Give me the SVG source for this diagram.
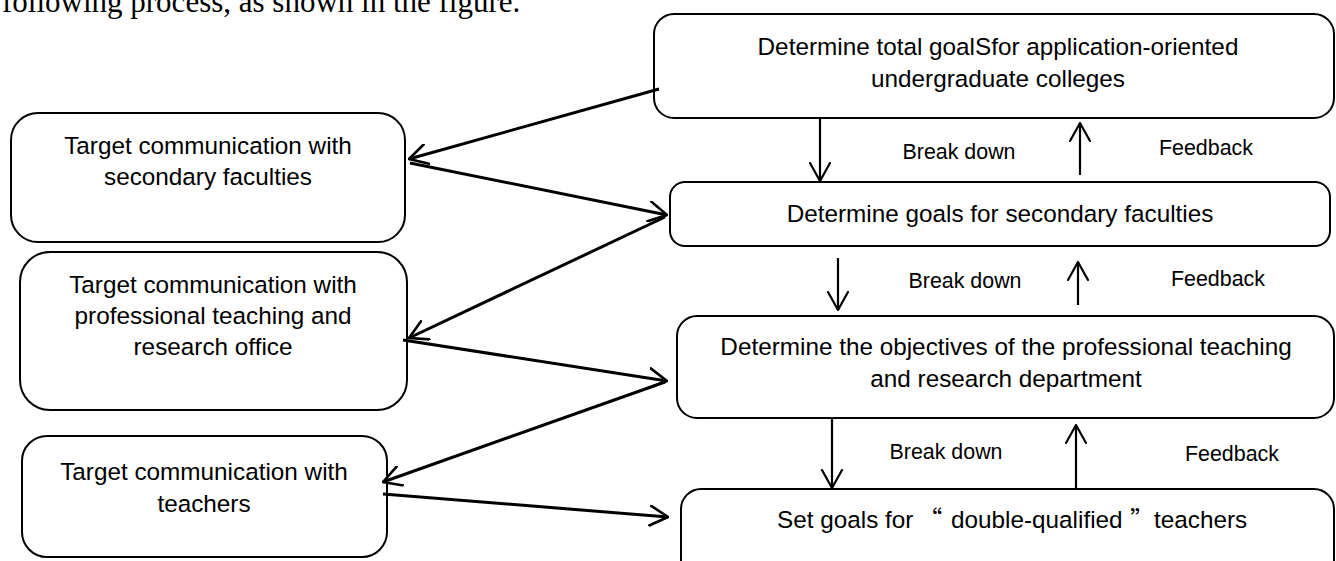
<svg xmlns="http://www.w3.org/2000/svg" width="1336" height="561" viewBox="0 0 1336 561">
<defs>
<style>
.box{fill:#fff;stroke:#000;stroke-width:2}
.t{font-family:"Liberation Sans",Arial,sans-serif;font-size:24.3px;fill:#000;text-anchor:middle}
.lbl{font-family:"Liberation Sans",Arial,sans-serif;font-size:21.4px;fill:#000;text-anchor:middle}
.cap{font-family:"Liberation Serif","Times New Roman",serif;font-size:31px;fill:#000}
.q{font-family:"Noto Sans CJK SC",sans-serif}
.sl{fill:none;stroke:#000;stroke-width:3;marker-end:url(#ah)}
.vl{fill:none;stroke:#000;stroke-width:2.2;marker-end:url(#ah2)}
</style>
<marker id="ah" viewBox="0 0 20 22" refX="19" refY="11" markerWidth="20" markerHeight="22" markerUnits="userSpaceOnUse" orient="auto">
<path d="M1,1 L19,11 L1,21" fill="none" stroke="#000" stroke-width="2.6" stroke-linecap="round" stroke-linejoin="round"/>
</marker>
<marker id="ah2" viewBox="0 0 20 22" refX="19" refY="11" markerWidth="20" markerHeight="22" markerUnits="userSpaceOnUse" orient="auto">
<path d="M1,1 L19,11 L1,21" fill="none" stroke="#000" stroke-width="2.2" stroke-linecap="round" stroke-linejoin="round"/>
</marker>
</defs>
<rect width="1336" height="561" fill="#fff"/>
<text class="cap" x="2" y="12">following process, as shown in the figure.</text>

<g id="n-total">
<rect class="box" x="654" y="14" width="680" height="104" rx="20"/>
<text class="t" x="998" y="55">Determine total goalSfor application-oriented</text>
<text class="t" x="998" y="87">undergraduate colleges</text>
</g>
<g id="n-faculty-goals">
<rect class="box" x="670" y="182" width="660" height="64" rx="15"/>
<text class="t" x="1000" y="222">Determine goals for secondary faculties</text>
</g>
<g id="n-dept-goals">
<rect class="box" x="677" y="316" width="657" height="102" rx="20"/>
<text class="t" x="1006" y="355">Determine the objectives of the professional teaching</text>
<text class="t" x="1006" y="387">and research department</text>
</g>
<g id="n-teacher-goals">
<rect class="box" x="681" y="489" width="653" height="92" rx="20"/>
<text class="t" x="777" y="528" style="text-anchor:start">Set goals for<tspan class="q" x="918">“</tspan><tspan x="951">double-qualified</tspan><tspan class="q" x="1130">”</tspan><tspan x="1154">teachers</tspan></text>
</g>
<g id="n-comm-faculty">
<rect class="box" x="11" y="113" width="394" height="129" rx="27"/>
<text class="t" x="208" y="154">Target communication with</text>
<text class="t" x="208" y="185">secondary faculties</text>
</g>
<g id="n-comm-office">
<rect class="box" x="20" y="252" width="387" height="158" rx="30"/>
<text class="t" x="213" y="293">Target communication with</text>
<text class="t" x="213" y="324">professional teaching and</text>
<text class="t" x="213" y="355">research office</text>
</g>
<g id="n-comm-teachers">
<rect class="box" x="22" y="436" width="365" height="121" rx="25"/>
<text class="t" x="204" y="480">Target communication with</text>
<text class="t" x="204" y="512">teachers</text>
</g>

<g id="connectors">
<line class="sl" x1="659" y1="89" x2="409" y2="159"/>
<line class="sl" x1="410" y1="163" x2="667" y2="215"/>
<line class="sl" x1="665" y1="217" x2="409" y2="338"/>
<line class="sl" x1="403" y1="340" x2="667" y2="381"/>
<line class="sl" x1="665" y1="382" x2="383" y2="482"/>
<line class="sl" x1="383" y1="494" x2="668" y2="517"/>
<line class="vl" x1="820" y1="118" x2="820" y2="181"/>
<line class="vl" x1="1080" y1="175" x2="1080" y2="123"/>
<line class="vl" x1="838" y1="258" x2="838" y2="310"/>
<line class="vl" x1="1078" y1="305" x2="1078" y2="262"/>
<line class="vl" x1="832" y1="418" x2="832" y2="488"/>
<line class="vl" x1="1076" y1="489" x2="1076" y2="425"/>
</g>
<g id="labels">
<text class="lbl" x="959" y="159">Break down</text>
<text class="lbl" x="1206" y="155">Feedback</text>
<text class="lbl" x="965" y="288">Break down</text>
<text class="lbl" x="1218" y="286">Feedback</text>
<text class="lbl" x="946" y="459">Break down</text>
<text class="lbl" x="1232" y="461">Feedback</text>
</g>
</svg>
